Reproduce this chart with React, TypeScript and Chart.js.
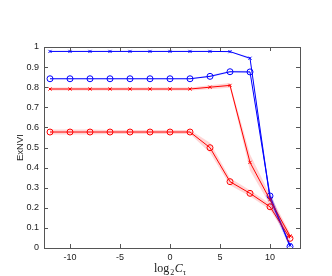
import React, { useEffect, useRef } from "react";
import { Chart, registerables } from "chart.js";

Chart.register(...registerables);

const X_VALUES = [-12, -10, -8, -6, -4, -2, 0, 2, 4, 6, 8, 10, 12];
const BLUE_X = [0.978, 0.978, 0.978, 0.978, 0.978, 0.978, 0.978, 0.978, 0.978, 0.977, 0.944, 0.245, 0.015];
const BLUE_X_ERR = [0.002, 0.002, 0.002, 0.002, 0.002, 0.002, 0.002, 0.002, 0.002, 0.002, 0.006, 0.03, 0.012];
const BLUE_O = [0.842, 0.842, 0.842, 0.842, 0.842, 0.842, 0.842, 0.842, 0.854, 0.877, 0.876, 0.259, 0.007];
const BLUE_O_ERR = [0.003, 0.003, 0.003, 0.003, 0.003, 0.003, 0.003, 0.003, 0.005, 0.005, 0.006, 0.025, 0.01];
const RED_X = [0.791, 0.791, 0.791, 0.791, 0.791, 0.791, 0.791, 0.791, 0.8, 0.809, 0.426, 0.24, 0.06];
const RED_X_ERR = [0.007, 0.007, 0.007, 0.007, 0.007, 0.007, 0.007, 0.007, 0.01, 0.012, 0.04, 0.025, 0.015];
const RED_O = [0.577, 0.577, 0.577, 0.577, 0.577, 0.577, 0.577, 0.577, 0.499, 0.33, 0.272, 0.205, 0.048];
const RED_O_ERR = [0.012, 0.012, 0.012, 0.01, 0.01, 0.01, 0.01, 0.01, 0.025, 0.018, 0.015, 0.015, 0.015];
const X_TICKS = [-10, -5, 0, 5, 10];
const Y_TICKS = [0, 0.1, 0.2, 0.3, 0.4, 0.5, 0.6, 0.7, 0.8, 0.9, 1];
const Y_TITLE = "ExNVI";

const BLUE = "#0000ff";
const RED = "#ff0000";
const BLUE_BAND = "rgba(0,0,255,0.15)";
const RED_BAND = "rgba(255,0,0,0.16)";
const AXIS = "#555555";

function pts(vals: number[], off: number[] | null, sign: number) {
  return X_VALUES.map((x, i) => ({ x, y: vals[i] + (off ? sign * off[i] : 0) }));
}

function bandSets(vals: number[], err: number[], color: string) {
  return [
    {
      data: pts(vals, err, -1),
      borderWidth: 0,
      pointRadius: 0,
      fill: false,
      borderColor: "transparent",
      backgroundColor: "transparent",
    },
    {
      data: pts(vals, err, 1),
      borderWidth: 0,
      pointRadius: 0,
      fill: "-1",
      borderColor: "transparent",
      backgroundColor: color,
    },
  ];
}

function lineSet(vals: number[], color: string, style: string) {
  return {
    data: pts(vals, null, 0),
    borderColor: color,
    backgroundColor: "transparent",
    borderWidth: 1,
    pointStyle: style,
    pointRadius: style === "circle" ? 3 : 2.2,
    pointBorderColor: color,
    pointBackgroundColor: "transparent",
    pointBorderWidth: 1,
    fill: false,
  };
}

const framePlugin = {
  id: "frame",
  afterDraw(chart: any) {
    const { ctx, chartArea: a, scales } = chart;
    const xs = scales.x;
    const ys = scales.y;
    ctx.save();
    ctx.strokeStyle = AXIS;
    ctx.lineWidth = 1;
    ctx.strokeRect(Math.round(a.left) + 0.5, Math.round(a.top) + 0.5, Math.round(a.right - a.left), Math.round(a.bottom - a.top));
    const tl = 4;
    ctx.beginPath();
    for (const v of X_TICKS) {
      const px = Math.round(xs.getPixelForValue(v)) + 0.5;
      ctx.moveTo(px, a.bottom);
      ctx.lineTo(px, a.bottom - tl);
      ctx.moveTo(px, a.top);
      ctx.lineTo(px, a.top + tl);
    }
    for (const v of Y_TICKS) {
      const py = Math.round(ys.getPixelForValue(v)) + 0.5;
      ctx.moveTo(a.left, py);
      ctx.lineTo(a.left + tl, py);
      ctx.moveTo(a.right, py);
      ctx.lineTo(a.right - tl, py);
    }
    ctx.stroke();

    // y title
    ctx.fillStyle = "#222";
    ctx.font = "9.5px 'Liberation Sans', Arial, sans-serif";
    ctx.textAlign = "center";
    ctx.textBaseline = "middle";
    ctx.translate(20, (a.top + a.bottom) / 2);
    ctx.rotate(-Math.PI / 2);
    ctx.fillText(Y_TITLE, 0, 0);
    ctx.setTransform(1, 0, 0, 1, 0, 0);

    // x title: log_2 C_tau
    ctx.textAlign = "left";
    ctx.textBaseline = "alphabetic";
    let x = 154;
    const base = 272;
    ctx.font = "12px 'Liberation Serif', 'DejaVu Serif', serif";
    ctx.fillText("log", x, base);
    x += ctx.measureText("log").width + 1;
    ctx.font = "8px 'Liberation Serif', 'DejaVu Serif', serif";
    ctx.fillText("2", x, base + 3);
    x += ctx.measureText("2").width + 0.5;
    ctx.font = "italic 12px 'Liberation Serif', 'DejaVu Serif', serif";
    ctx.fillText("C", x, base);
    x += ctx.measureText("C").width;
    ctx.font = "8px 'Liberation Serif', 'DejaVu Serif', serif";
    ctx.fillText("\u03c4", x, base + 3);
    ctx.restore();
  },
};

export default function App() {
  const ref = useRef<HTMLCanvasElement | null>(null);
  useEffect(() => {
    document.body.style.margin = "0";
    const canvas = ref.current;
    if (!canvas) return;
    const chart = new Chart(canvas, {
      type: "line",
      data: {
        datasets: [
          ...bandSets(RED_O, RED_O_ERR, RED_BAND),
          ...bandSets(RED_X, RED_X_ERR, RED_BAND),
          ...bandSets(BLUE_O, BLUE_O_ERR, BLUE_BAND),
          ...bandSets(BLUE_X, BLUE_X_ERR, BLUE_BAND),
          lineSet(RED_O, RED, "circle"),
          lineSet(RED_X, RED, "crossRot"),
          lineSet(BLUE_O, BLUE, "circle"),
          lineSet(BLUE_X, BLUE, "crossRot"),
        ] as any,
      },
      options: {
        animation: false,
        responsive: false,
        devicePixelRatio: 1,
        layout: { padding: { top: 47, right: 32, left: 0, bottom: 0 } },
        plugins: { legend: { display: false }, tooltip: { enabled: false } },
        elements: { line: { tension: 0 } },
        scales: {
          x: {
            type: "linear",
            min: -12.6,
            max: 13,
            afterBuildTicks: (s: any) => {
              s.ticks = X_TICKS.map((v) => ({ value: v }));
            },
            afterFit: (s: any) => {
              s.height = 28;
            },
            grid: { display: false, drawTicks: false },
            border: { display: false },
            ticks: {
              padding: 4,
              color: "#222",
              font: { family: "'Liberation Sans', Arial, sans-serif", size: 9 },
              maxRotation: 0,
            },
          },
          y: {
            type: "linear",
            min: 0,
            max: 1,
            afterBuildTicks: (s: any) => {
              s.ticks = Y_TICKS.map((v) => ({ value: v }));
            },
            afterFit: (s: any) => {
              s.width = 44;
            },
            grid: { display: false, drawTicks: false },
            border: { display: false },
            ticks: {
              padding: 5,
              color: "#222",
              font: { family: "'Liberation Sans', Arial, sans-serif", size: 9 },
              callback: (v: any) => String(Math.round(Number(v) * 10) / 10),
            },
          },
        },
      },
      plugins: [framePlugin],
    });
    return () => chart.destroy();
  }, []);
  return (
    <div style={{ width: 332, height: 276 }}>
      <canvas ref={ref} width={332} height={276} style={{ display: "block", width: 332, height: 276 }} />
    </div>
  );
}
